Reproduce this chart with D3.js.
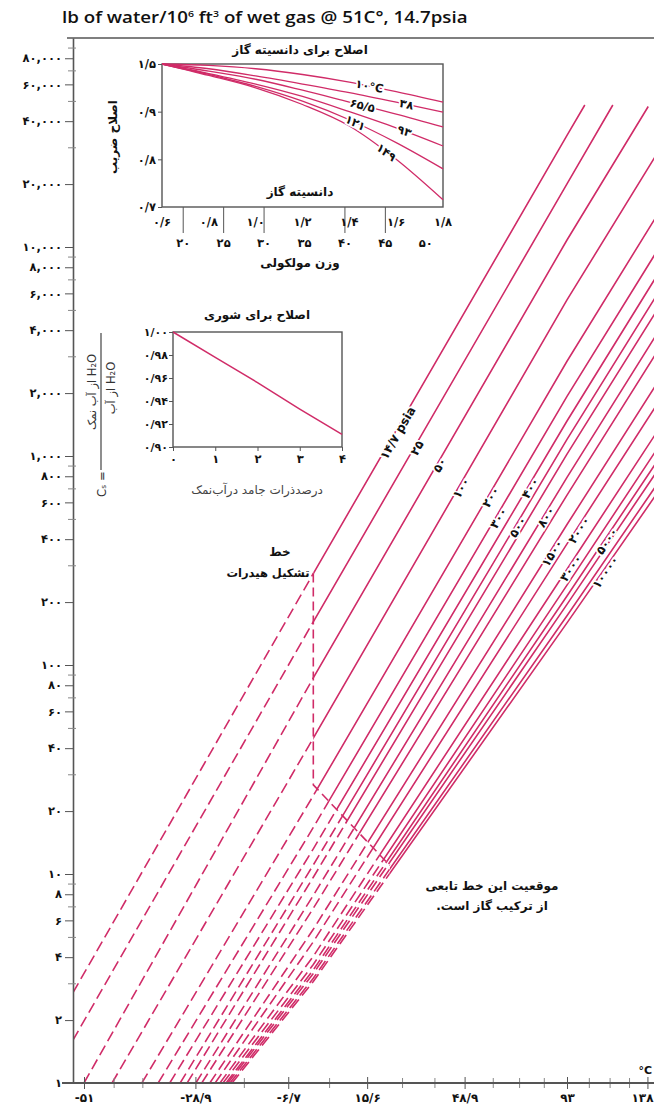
<!DOCTYPE html>
<html><head><meta charset="utf-8">
<script src="https://cdn.jsdelivr.net/npm/d3@7"></script>
<style>
body{margin:0;background:#fff}
svg{display:block}
.fa{font-family:"DejaVu Sans",sans-serif;font-weight:bold;fill:#111}
.en{font-family:"Open Sans",Lato,sans-serif;fill:#111}
</style></head><body>
<svg id="c" width="654" height="1113"></svg>
<script>
// ---- main chart: water content of natural gas ----
// isobar pressures (psia)
const pressures = [14.7, 25, 50, 100, 200, 300, 400, 500, 600, 800, 1000, 1500, 2000, 3000, 4000, 5000, 6000, 8000, 10000];
// lower end of every isobar: temperature (°C) and water content (lb/MMscf)
const lowT = [-53.1, -53.1, -51.1, -45.9, -40.1, -36.8, -34.4, -32.2, -30.7, -28.8, -27.5, -25.7, -24.5, -23.4, -22.7, -22.0, -21.6, -21.1, -20.6];
const lowW = [2.7, 1.6, 1, 1, 1, 1, 1, 1, 1, 1, 1, 1, 1, 1, 1, 1, 1, 1, 1];
// water content at 0 °C and at 93.3 °C
const w0C = [274, 161, 86.8, 44.7, 23.7, 16.7, 13.2, 11.05, 9.65, 7.9, 6.85, 5.44, 4.74, 4.04, 3.69, 3.48, 3.34, 3.17, 3.06];
const w93C = [34200, 20050, 10800, 5580, 2840, 1930, 1470, 1200, 1020, 790, 650, 470, 380, 287, 241, 214, 195, 172, 159];
// upper end of every isobar
const highT = [102.3, 117.4, 138.3, 148.9, 148.9, 148.9, 148.9, 148.9, 148.9, 148.9, 148.9, 148.9, 148.9, 148.9, 148.9, 148.9, 148.9, 148.9, 148.9];
const highW = [47800, 47800, 47000, 32200, 16300, 11000, 8400, 6800, 5730, 4410, 3610, 2550, 2020, 1490, 1230, 1070, 960, 830, 750];
// pressure labels written along the lines
const isobarLabels = ["۱۴/۷ psia", "۲۵", "۵۰", "۱۰۰", "۲۰۰", "۳۰۰", "۴۰۰", "۵۰۰", "", "۸۰۰", "", "۱۵۰۰", "۲۰۰۰", "۳۰۰۰", "", "۵۰۰۰", "", "", "۱۰۰۰۰"];
// hydrate formation line (°C, lb/MMscf)
const hydrateT = [0, 0, 22.7];
const hydrateW = [274, 26.7, 11.0];

// axis ticks
const yMajor = [1, 2, 4, 6, 8, 10, 20, 40, 60, 80, 100, 200, 400, 600, 800, 1000, 2000, 4000, 6000, 8000, 10000, 20000, 40000, 60000, 80000];
const yMinor = [3, 5, 7, 9, 30, 50, 70, 90, 300, 500, 700, 900, 3000, 5000, 7000, 9000, 30000, 50000, 70000, 90000];
const xLabelTemps = [-51.1, -28.9, -6.7, 15.6, 48.9, 93.3, 137.8];
const xLabels = ["-۵۱", "-۲۸/۹", "-۶/۷", "۱۵/۶", "۴۸/۹", "۹۳", "۱۳۸"];
const xMinorTemps = [-45.6, -40, -17.8, 4.4, 26.7, 37.8, 60, 71.1, 82.2, 104.4, 115.6, 126.7];

// ---- inset: gas gravity correction ----
const gravity = [0.6, 0.8, 1.0, 1.2, 1.4, 1.6, 1.8];
const gravityLabels = ["۰/۶", "۰/۸", "۱/۰", "۱/۲", "۱/۴", "۱/۶", "۱/۸"];
const molWeight = [20, 25, 30, 35, 40, 45, 50];
const cg10 = [1.0, 0.997, 0.99, 0.978, 0.962, 0.942, 0.920];
const cg38 = [1.0, 0.99, 0.975, 0.958, 0.94, 0.92, 0.899];
const cg65 = [1.0, 0.985, 0.968, 0.945, 0.92, 0.895, 0.868];
const cg93 = [1.0, 0.98, 0.958, 0.932, 0.90, 0.866, 0.828];
const cg121 = [1.0, 0.978, 0.953, 0.922, 0.883, 0.835, 0.780];
const cg149 = [1.0, 0.976, 0.95, 0.915, 0.87, 0.80, 0.715];
const cgLabels = ["۱۰°C", "۳۸", "۶۵/۵", "۹۳", "۱۲۱", "۱۴۹"];
const cgTicks = [1.0, 0.9, 0.8, 0.7];
const cgTickLabels = ["۱/۵", "۰/۹", "۰/۸", "۰/۷"];

// ---- inset: salinity correction ----
const solids = [0, 1, 2, 3, 4];
const salinityCorr = [1.0, 0.978, 0.956, 0.933, 0.911];
const csTicks = [1.0, 0.98, 0.96, 0.94, 0.92, 0.90];
const csTickLabels = ["۱/۰۰", "۰/۹۸", "۰/۹۶", "۰/۹۴", "۰/۹۲", "۰/۹۰"];

const LINE = "#d02c68";
const AXIS = "#555";
const fa = s => String(s).replace(/\d/g, d => "۰۱۲۳۴۵۶۷۸۹"[d]);

const svg = d3.select("#c");
const Wd = 654, Ht = 1113;
const P = {left: 73, top: 38, right: 654, bottom: 1083};

// temperature axis is linear in reciprocal absolute temperature
const inv = t => -1000 / (t + 273.15);
const xLin = d3.scaleLinear().domain([inv(-51.1), inv(93.3)]).range([84, 567]);
const x = t => xLin(inv(t));
const y = d3.scaleLog().domain([1, 100000]).range([P.bottom, P.top]);

const defs = svg.append("defs");
defs.append("clipPath").attr("id", "plotClip").append("rect")
  .attr("x", P.left).attr("y", P.top).attr("width", P.right - P.left).attr("height", P.bottom - P.top);

const hyd = hydrateT.map((t, i) => [x(t), y(hydrateW[i])]);
const [hA, hB, hC] = hyd;
defs.append("clipPath").attr("id", "solidClip").append("polygon")
  .attr("points", [[hA[0], 0], [hB[0], hB[1]], [hC[0], hC[1]], [hC[0], Ht], [Wd, Ht], [Wd, 0]].map(p => p.join(",")).join(" "));
defs.append("clipPath").attr("id", "dashClip").append("polygon")
  .attr("points", [[0, 0], [hA[0], 0], [hB[0], hB[1]], [hC[0], hC[1]], [hC[0], Ht], [0, Ht]].map(p => p.join(",")).join(" "));

const isobars = pressures.map((p, i) => [
  [lowT[i], lowW[i]], [0, w0C[i]], [93.3, w93C[i]], [highT[i], highW[i]]
]);

const line = d3.line().x(d => x(d[0])).y(d => y(d[1]));
const plotG = svg.append("g").attr("clip-path", "url(#plotClip)");

plotG.append("g").attr("clip-path", "url(#dashClip)")
  .selectAll("path").data(isobars).join("path")
  .attr("d", line).attr("fill", "none").attr("stroke", LINE)
  .attr("stroke-width", 1.6).attr("stroke-dasharray", "11,5");

plotG.append("g").attr("clip-path", "url(#solidClip)")
  .selectAll("path").data(isobars).join("path")
  .attr("d", line).attr("fill", "none").attr("stroke", LINE).attr("stroke-width", 1.6);

plotG.append("path")
  .attr("d", line(hydrateT.map((t, i) => [t, hydrateW[i]])))
  .attr("fill", "none").attr("stroke", LINE).attr("stroke-width", 1.6).attr("stroke-dasharray", "9,5");

// labels sitting on the isobars
const labelY = [433, 448, 465, 488, 497, 518, 488, 527, 0, 517, 0, 553, 530, 568, 0, 541, 0, 0, 572];
function onLine(pts, yy) {
  const px = pts.map(d => [x(d[0]), y(d[1])]);
  for (let k = 0; k < px.length - 1; k++) {
    const a = px[k], b = px[k + 1];
    if ((yy <= a[1] && yy >= b[1]) || (yy >= a[1] && yy <= b[1])) {
      const f = (yy - a[1]) / (b[1] - a[1]);
      return {x: a[0] + f * (b[0] - a[0]), y: yy, ang: Math.atan2(b[1] - a[1], b[0] - a[0]) * 180 / Math.PI};
    }
  }
  return null;
}
isobars.forEach((pts, i) => {
  if (!isobarLabels[i]) return;
  const q = onLine(pts, labelY[i]);
  svg.append("text").attr("class", "fa")
    .attr("transform", `translate(${q.x + 3},${q.y}) rotate(${q.ang})`)
    .attr("text-anchor", "middle").attr("dy", "0.35em")
    .attr("font-size", 12)
    .attr("stroke", "#fff").attr("stroke-width", 3.5).attr("paint-order", "stroke")
    .text(isobarLabels[i]);
});

// frame and axes
svg.append("line").attr("x1", 67).attr("x2", Wd).attr("y1", P.top).attr("y2", P.top)
  .attr("stroke", AXIS).attr("stroke-width", 1.5);

const yAxis = svg.append("g").attr("transform", `translate(${P.left},0)`)
  .call(d3.axisLeft(y).tickValues(yMajor).tickFormat(v => fa(d3.format(",")(v))).tickSize(8).tickSizeOuter(0));
yAxis.select(".domain").attr("stroke", AXIS).attr("stroke-width", 1.6);
yAxis.selectAll(".tick line").attr("stroke", AXIS);
yAxis.selectAll(".tick text").attr("class", "fa").attr("font-size", 11.5).attr("x", -11);
const yMin = svg.append("g").attr("transform", `translate(${P.left + 3},0)`)
  .call(d3.axisLeft(y).tickValues(yMinor).tickFormat("").tickSize(8).tickSizeOuter(0));
yMin.select(".domain").remove();
yMin.selectAll(".tick line").attr("stroke", "#888");

const xAxis = svg.append("g").attr("transform", `translate(0,${P.bottom})`)
  .call(d3.axisBottom(xLin).tickValues(xLabelTemps.map(inv)).tickFormat((d, i) => xLabels[i]).tickSize(6).tickSizeOuter(0));
xAxis.select(".domain").remove();
xAxis.selectAll(".tick line").attr("stroke", AXIS).attr("y1", -6);
xAxis.selectAll(".tick text").attr("class", "fa").attr("font-size", 12).attr("y", 10);
// the last label is held inside the right edge
xAxis.selectAll(".tick text").filter((d, i) => i === xLabels.length - 1)
  .attr("text-anchor", "end").attr("x", Wd - 1 - xLin(inv(137.8)));
const xMin = svg.append("g").attr("transform", `translate(0,${P.bottom})`)
  .call(d3.axisBottom(xLin).tickValues(xMinorTemps.map(inv)).tickFormat("").tickSize(5).tickSizeOuter(0));
xMin.select(".domain").remove();
xMin.selectAll(".tick line").attr("stroke", "#888").attr("y1", -5);
svg.append("line").attr("x1", 62).attr("x2", Wd).attr("y1", P.bottom).attr("y2", P.bottom)
  .attr("stroke", AXIS).attr("stroke-width", 1.8);
svg.append("text").attr("class", "fa").attr("x", 652).attr("y", 1074).attr("text-anchor", "end").attr("font-size", 11).text("°C");

// title, sized to its printed width
const title = svg.append("text").attr("class", "en").attr("x", 62).attr("y", 23).attr("font-size", 16)
  .attr("font-weight", 600)
  .html('lb of water/10<tspan dy="-6" font-size="9">6</tspan><tspan dy="6"> ft</tspan><tspan dy="-6" font-size="9">3</tspan><tspan dy="6"> of wet gas @ 51C°, 14.7psia</tspan>');
const tw = title.node().getBBox().width;
title.attr("transform", `translate(62,23) scale(${406 / tw},1) translate(-62,-23)`);

// annotations
const rtlText = (sel, tx, ty, s, size) => sel.append("text").attr("class", "fa").attr("direction", "rtl")
  .attr("x", tx).attr("y", ty).attr("text-anchor", "middle").attr("font-size", size).text(s);
rtlText(svg, 280, 556, "خط", 12);
rtlText(svg, 268, 577, "تشکیل هیدرات", 11.5);
rtlText(svg, 492, 890, "موقعیت این خط تابعی", 12);
rtlText(svg, 492, 910, "از ترکیب گاز است.", 12);

// ---- gas gravity inset ----
const gx = d3.scaleLinear().domain([0.6, 1.8]).range([162, 443]);
const gy = d3.scaleLinear().domain([0.7, 1.0]).range([207, 64]);
const g1 = svg.append("g");
g1.append("rect").attr("x", gx(0.6)).attr("y", gy(1.0)).attr("width", gx(1.8) - gx(0.6)).attr("height", gy(0.7) - gy(1.0))
  .attr("fill", "none").attr("stroke", AXIS).attr("stroke-width", 1.4);
const cgSeries = [cg10, cg38, cg65, cg93, cg121, cg149];
const gLine = d3.line().x((d, i) => gx(gravity[i])).y(d => gy(d)).curve(d3.curveMonotoneX);
g1.selectAll("path.cg").data(cgSeries).join("path").attr("class", "cg")
  .attr("d", gLine).attr("fill", "none").attr("stroke", LINE).attr("stroke-width", 1.3);
const cgLabelG = [1.486, 1.644, 1.456, 1.635, 1.426, 1.558];
cgSeries.forEach((s, i) => {
  const gg = cgLabelG[i];
  const v = d3.scaleLinear().domain(gravity).range(s)(gg);
  const v2 = d3.scaleLinear().domain(gravity).range(s)(gg + 0.05);
  const ang = Math.atan2(gy(v2) - gy(v), gx(gg + 0.05) - gx(gg)) * 180 / Math.PI;
  g1.append("text").attr("class", "fa")
    .attr("transform", `translate(${gx(gg)},${gy(v)}) rotate(${ang})`)
    .attr("text-anchor", "middle").attr("dy", "0.35em").attr("font-size", 11.5)
    .attr("stroke", "#fff").attr("stroke-width", 3.5).attr("paint-order", "stroke")
    .text(cgLabels[i]);
});
const cgAxis = g1.append("g").attr("transform", `translate(${gx(0.6)},0)`)
  .call(d3.axisLeft(gy).tickValues(cgTicks).tickFormat((d, i) => cgTickLabels[i]).tickSize(4).tickSizeOuter(0));
cgAxis.select(".domain").remove();
cgAxis.selectAll(".tick line").attr("stroke", AXIS);
cgAxis.selectAll(".tick text").attr("class", "fa").attr("font-size", 11.5).attr("x", -6);
g1.selectAll("line.mw").data(molWeight.filter(m => m !== 35 && m !== 50)).join("line").attr("class", "mw")
  .attr("x1", m => gx(m / 28.96)).attr("x2", m => gx(m / 28.96))
  .attr("y1", gy(0.7)).attr("y2", gy(0.7) + 26).attr("stroke", AXIS).attr("stroke-width", 1);
g1.selectAll("text.gl").data(gravity).join("text").attr("class", "fa gl")
  .attr("x", d => gx(d)).attr("y", 226).attr("text-anchor", "middle").attr("font-size", 11.5)
  .text((d, i) => gravityLabels[i]);
g1.selectAll("text.mwl").data(molWeight).join("text").attr("class", "fa mwl")
  .attr("x", m => gx(m / 28.96)).attr("y", 247).attr("text-anchor", "middle").attr("font-size", 11.5)
  .text(m => fa(m));
rtlText(g1, 300, 267, "وزن مولکولی", 12);
rtlText(g1, 300, 196, "دانسیته گاز", 12);
rtlText(g1, 300, 54, "اصلاح برای دانسیته گاز", 12);
g1.append("text").attr("class", "fa").attr("direction", "rtl").attr("transform", "translate(117,137) rotate(-90)")
  .attr("text-anchor", "middle").attr("font-size", 12).text("اصلاح ضریب");

// ---- salinity inset ----
const sx = d3.scaleLinear().domain([0, 4]).range([173, 342]);
const sy = d3.scaleLinear().domain([0.90, 1.00]).range([447, 332]);
const g2 = svg.append("g");
g2.append("rect").attr("x", sx(0)).attr("y", sy(1)).attr("width", sx(4) - sx(0)).attr("height", sy(0.9) - sy(1))
  .attr("fill", "none").attr("stroke", AXIS).attr("stroke-width", 1.4);
g2.append("path").datum(salinityCorr)
  .attr("d", d3.line().x((d, i) => sx(solids[i])).y(d => sy(d)))
  .attr("fill", "none").attr("stroke", LINE).attr("stroke-width", 1.5);
const csAxis = g2.append("g").attr("transform", `translate(${sx(0)},0)`)
  .call(d3.axisLeft(sy).tickValues(csTicks).tickFormat((d, i) => csTickLabels[i]).tickSize(4).tickSizeOuter(0));
csAxis.select(".domain").remove();
csAxis.selectAll(".tick line").attr("stroke", AXIS);
csAxis.selectAll(".tick text").attr("class", "fa").attr("font-size", 11).attr("x", -5);
const sAxis = g2.append("g").attr("transform", `translate(0,${sy(0.9)})`)
  .call(d3.axisBottom(sx).tickValues(solids).tickFormat(d => fa(d)).tickSize(4).tickSizeOuter(0));
sAxis.select(".domain").remove();
sAxis.selectAll(".tick line").attr("stroke", AXIS);
sAxis.selectAll(".tick text").attr("class", "fa").attr("font-size", 11.5).attr("y", 8);
rtlText(g2, 257, 319, "اصلاح برای شوری", 12);
g2.append("text").attr("x", 257).attr("y", 494).attr("text-anchor", "middle").attr("font-size", 12).attr("direction", "rtl")
  .attr("font-family", "DejaVu Sans").attr("fill", "#444").text("درصدذرات جامد درآب‌نمک");

// salinity factor definition, written vertically
const fr = g2.append("g").attr("transform", "translate(101,0) rotate(-90)");
fr.append("line").attr("x1", -333).attr("x2", -470).attr("y1", 0).attr("y2", 0).attr("stroke", "#444").attr("stroke-width", 1.2);
fr.append("text").attr("direction", "rtl").attr("x", -392).attr("y", -5).attr("text-anchor", "middle").attr("font-size", 11.5)
  .attr("font-family", "DejaVu Sans").attr("fill", "#333").text("H₂O از آب نمک");
fr.append("text").attr("direction", "rtl").attr("x", -388).attr("y", 14).attr("text-anchor", "middle").attr("font-size", 11.5)
  .attr("font-family", "DejaVu Sans").attr("fill", "#333").text("H₂O از آب");
fr.append("text").attr("x", -497).attr("y", 5).attr("text-anchor", "start").attr("font-size", 11.5)
  .attr("font-family", "DejaVu Sans").attr("fill", "#333").text("Cₛ =");
</script></body></html>
